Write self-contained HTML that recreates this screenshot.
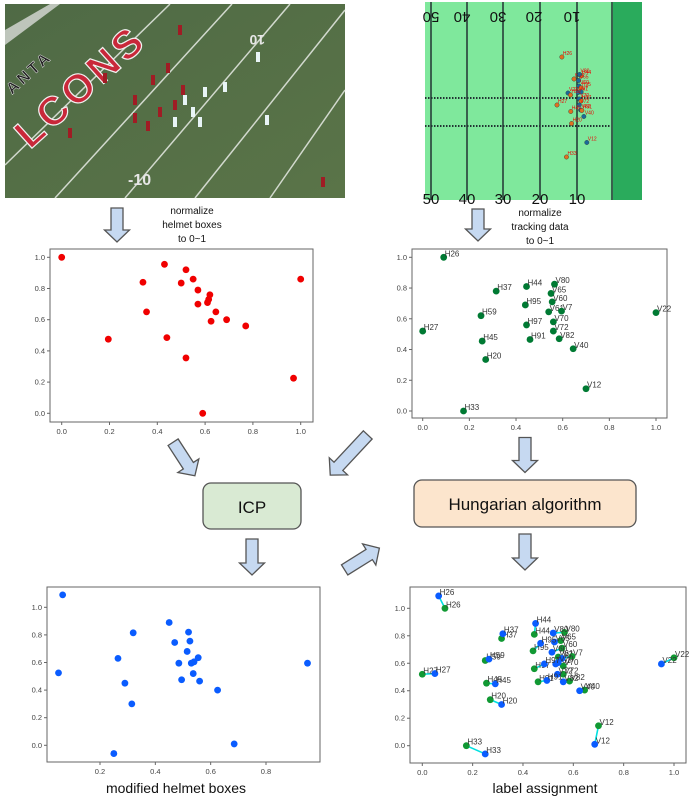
<!DOCTYPE html>
<html><head><meta charset="utf-8">
<style>
html,body{margin:0;padding:0;background:#fff;}
svg{display:block;font-family:"Liberation Sans",sans-serif;}
</style></head>
<body>
<svg id="root" width="693" height="800" viewBox="0 0 693 800" xmlns="http://www.w3.org/2000/svg">
  <defs>
    <linearGradient id="turf" x1="0" y1="0" x2="1" y2="1">
      <stop offset="0" stop-color="#4f6a45"/>
      <stop offset="1" stop-color="#5a7448"/>
    </linearGradient>
  </defs>
  <g>
    <rect x="5" y="4" width="340" height="194" fill="url(#turf)"/>
    <g stroke="#e8ece6" stroke-width="1.5" opacity="0.85">
      <line x1="5" y1="165" x2="170" y2="4"/>
      <line x1="55" y1="198" x2="232" y2="4"/>
      <line x1="125" y1="198" x2="290" y2="4"/>
      <line x1="195" y1="198" x2="345" y2="10"/>
      <line x1="270" y1="198" x2="345" y2="90"/>
    </g>
    <polygon points="5,30 50,4 60,4 5,45" fill="#d9dcd8" opacity="0.8"/>
    <text x="0" y="0" transform="translate(30,150) rotate(-42)" font-size="40" font-weight="bold" fill="#c9283a" stroke="#f2f2f2" stroke-width="1.2" letter-spacing="4">LCONS</text>
    <text x="0" y="0" transform="translate(12,95) rotate(-42)" font-size="16" font-weight="bold" fill="#222" stroke="#ddd" stroke-width="0.5" letter-spacing="3">ANTA</text>
    <text x="235" y="45" font-size="14" font-weight="bold" fill="#e6e6e6" transform="rotate(180,250,40)">10</text>
    <text x="128" y="185" font-size="16" font-weight="bold" fill="#e6e6e6">-10</text>
    <g id="players"></g>
  </g>
  <g>
    <rect x="425" y="2" width="188" height="198" fill="#7fe89c"/>
    <rect x="613" y="2" width="29" height="198" fill="#2aab5c"/>
    <g stroke="#233" stroke-width="1.5">
      <line x1="431" y1="2" x2="431" y2="200"/><line x1="467" y1="2" x2="467" y2="200"/>
      <line x1="503" y1="2" x2="503" y2="200"/><line x1="540" y1="2" x2="540" y2="200"/>
      <line x1="577" y1="2" x2="577" y2="200"/><line x1="612" y1="2" x2="612" y2="200"/>
    </g>
    <g stroke="#233" stroke-width="2" stroke-dasharray="1.5,1.5">
      <line x1="425" y1="98" x2="610" y2="98"/><line x1="425" y1="126" x2="610" y2="126"/>
    </g>
    <g font-size="15" fill="#111">
      <text transform="rotate(180,431,18)" x="431" y="24" text-anchor="middle">50</text>
      <text transform="rotate(180,462,18)" x="462" y="24" text-anchor="middle">40</text>
      <text transform="rotate(180,498,18)" x="498" y="24" text-anchor="middle">30</text>
      <text transform="rotate(180,534,18)" x="534" y="24" text-anchor="middle">20</text>
      <text transform="rotate(180,572,18)" x="572" y="24" text-anchor="middle">10</text>
      <text x="431" y="204" text-anchor="middle">50</text>
      <text x="467" y="204" text-anchor="middle">40</text>
      <text x="503" y="204" text-anchor="middle">30</text>
      <text x="540" y="204" text-anchor="middle">20</text>
      <text x="577" y="204" text-anchor="middle">10</text>
    </g>
    <g id="fieldDots"></g>
  </g>
  <g font-size="10" fill="#111" text-anchor="middle">
    <text x="192" y="214"><tspan x="192">normalize</tspan><tspan x="192" dy="14">helmet boxes</tspan><tspan x="192" dy="14">to 0~1</tspan></text>
    <text x="540" y="216"><tspan x="540">normalize</tspan><tspan x="540" dy="14">tracking data</tspan><tspan x="540" dy="14">to 0~1</tspan></text>
  </g>
  <g id="arrows"></g>
  <g>
    <rect x="203" y="483" width="98" height="46" rx="8" fill="#d9ead3" stroke="#555" stroke-width="1.3"/>
    <text x="252" y="513" font-size="17" text-anchor="middle" fill="#111">ICP</text>
  </g>
  <g>
    <rect x="414" y="480" width="222" height="47" rx="8" fill="#fce5cd" stroke="#555" stroke-width="1.3"/>
    <text x="525" y="510" font-size="17" text-anchor="middle" fill="#111">Hungarian algorithm</text>
  </g>
  <g id="plots"></g>
  <text x="176" y="793" font-size="14" text-anchor="middle" fill="#111">modified helmet boxes</text>
  <text x="545" y="793" font-size="14" text-anchor="middle" fill="#111">label assignment</text>
</svg>
<script>
const NS="http://www.w3.org/2000/svg";
const helmetX=[0,0.43,0.52,0.34,0.50,0.55,1.0,0.57,0.62,0.615,0.61,0.57,0.355,0.645,0.69,0.625,0.77,0.195,0.44,0.52,0.97,0.59];
const helmetY=[1,0.955,0.92,0.84,0.835,0.86,0.86,0.79,0.76,0.73,0.71,0.70,0.65,0.65,0.60,0.59,0.56,0.475,0.485,0.355,0.225,0.0];
const trackLabels=["H26","H37","H44","V80","V65","V60","H95","V61","V7","V22","H59","V70","H97","H27","V72","V82","H91","H45","V40","H20","V12","H33"];
const trackX=[0.09,0.315,0.445,0.565,0.55,0.555,0.44,0.54,0.595,1.0,0.25,0.56,0.445,0.0,0.56,0.585,0.46,0.255,0.645,0.27,0.70,0.175];
const trackY=[1.0,0.78,0.81,0.825,0.765,0.71,0.69,0.645,0.65,0.64,0.62,0.58,0.56,0.52,0.52,0.47,0.465,0.455,0.405,0.335,0.145,0.0];
const modX=[0.065,0.32,0.45,0.52,0.525,0.515,0.47,0.53,0.555,0.95,0.265,0.54,0.485,0.05,0.537,0.56,0.495,0.29,0.625,0.315,0.685,0.25];
const modY=[1.09,0.815,0.89,0.82,0.755,0.68,0.745,0.595,0.635,0.595,0.63,0.605,0.595,0.525,0.52,0.465,0.475,0.45,0.40,0.30,0.01,-0.06];
const ticks01=[0,0.2,0.4,0.6,0.8,1.0];
const ticksMod=[0.2,0.4,0.6,0.8];
const ticksY2=[0,0.2,0.4,0.6,0.8,1.0];

function el(tag,attrs,parent){const e=document.createElementNS(NS,tag);for(const k in attrs)e.setAttribute(k,attrs[k]);parent.appendChild(e);return e;}
const plots=document.getElementById('plots');

function makeAxes(name,box,xs,ys,xt,yt){
  const g=el('g',{},plots);
  
  
  el('rect',{x:box.x0,y:box.y0,width:box.x1-box.x0,height:box.y1-box.y0,fill:'none',stroke:'#666','stroke-width':1},g);
  xt.forEach(t=>{const x=xs(t);el('line',{x1:x,x2:x,y1:box.y1,y2:box.y1+3,stroke:'#666'},g);
    const tx=el('text',{x:x,y:box.y1+12,'font-size':7.5,'text-anchor':'middle',fill:'#444'},g);tx.textContent=t.toFixed(1);
    
    });
  yt.forEach(t=>{const y=ys(t);el('line',{x1:box.x0-3,x2:box.x0,y1:y,y2:y,stroke:'#666'},g);
    const tx=el('text',{x:box.x0-5,y:y+2.5,'font-size':7.5,'text-anchor':'end',fill:'#444'},g);tx.textContent=t.toFixed(1);
    
    });
  return g;
}
function lin(d0,d1,r0,r1){return v=>r0+(v-d0)*(r1-r0)/(d1-d0);}
function dot(g,x,y,c,name){const d=el('circle',{cx:x,cy:y,r:3.4,fill:c},g);
  
  return d;}
function lab(g,x,y,s){const t=el('text',{x:x+1,y:y-1,'font-size':8,fill:'#333'},g);t.textContent=s;
  
  }

{const box={x0:50,x1:313,y0:249,y1:422};const xs=lin(0,1,61.7,300.7),ys=lin(0,1,413.3,257.3);
 const g=makeAxes('helmet-scatter',box,xs,ys,ticks01,ticksY2);
 helmetX.forEach((v,i)=>dot(g,xs(v),ys(helmetY[i]),'#f00000','helmet-point'));}
{const box={x0:412,x1:667,y0:249,y1:418};const xs=lin(0,1,422.7,656),ys=lin(0,1,411,257.3);
 const g=makeAxes('tracking-scatter',box,xs,ys,ticks01,ticksY2);
 trackX.forEach((v,i)=>{dot(g,xs(v),ys(trackY[i]),'#007a33','tracking-point');lab(g,xs(v),ys(trackY[i]),trackLabels[i]);});}
{const box={x0:47,x1:320,y0:587,y1:762};const xs=lin(0.2,0.8,100,266),ys=lin(0,1,745.3,607.3);
 const g=makeAxes('modified-helmet-scatter',box,xs,ys,ticksMod,ticksY2);
 modX.forEach((v,i)=>dot(g,xs(v),ys(modY[i]),'#0a5cff','modified-helmet-point'));}
{const box={x0:410,x1:686,y0:587,y1:763};const xs=lin(0,1,422.3,674),ys=lin(0,1,745.7,608.3);
 const g=makeAxes('assignment-scatter',box,xs,ys,ticks01,ticksY2);
 trackX.forEach((v,i)=>{const l=el('line',{x1:xs(v),y1:ys(trackY[i]),x2:xs(modX[i]),y2:ys(modY[i]),stroke:'#00e0e0','stroke-width':1.6},g);
   
   });
 trackX.forEach((v,i)=>{dot(g,xs(v),ys(trackY[i]),'#119933','assigned-track-point');lab(g,xs(v),ys(trackY[i]),trackLabels[i]);});
 modX.forEach((v,i)=>{dot(g,xs(v),ys(modY[i]),'#0a5cff','assigned-helmet-point');lab(g,xs(v),ys(modY[i]),trackLabels[i]);});}

{const fg=document.getElementById('fieldDots');const fx=lin(0,1,553,607),fy=lin(0,1,157,57);
 trackX.forEach((v,i)=>{const isH=trackLabels[i][0]==='H';
   const px=isH?fx(v)+4:fx(v)-(v>0.9?35:0)-4;
   const c=el('circle',{cx:px,cy:fy(trackY[i]),r:2.2,fill:isH?'#e07020':'#1a6a9a',stroke:'#333','stroke-width':0.4},fg);
   
   
   const t=el('text',{x:px+1,y:fy(trackY[i])-2,'font-size':5,fill:'#e00'},fg);t.textContent=trackLabels[i];
   
   });}

{const pg=document.getElementById('players');
 const pxs=[[180,30],[105,78],[153,80],[168,68],[135,100],[183,90],[175,105],[160,112],[148,126],[135,118],[70,133],[185,100],[205,92],[225,87],[193,112],[200,122],[175,122],[258,57],[267,120],[323,182]];
 pxs.forEach((p,i)=>{const c=el('rect',{x:p[0]-2,y:p[1]-5,width:4,height:10,fill:(i>10&&i<19)?'#e8f4f6':'#a01c24'},pg);
   
   });}

{const ag=document.getElementById('arrows');
 const arrows=[[117,225,34,0],[478,225,32,0],[184,459,40,-33],[349,455,55,43],[525,455,35,0],[252,557,36,0],[362,559,41,-122],[525,552,36,0]];
 arrows.forEach(a=>{const L=a[2]/2;const pts=[[-6,-L],[6,-L],[6,L-12],[12.5,L-12],[0,L],[-12.5,L-12],[-6,L-12]].map(p=>p.join(',')).join(' ');
   const p=el('polygon',{points:pts,fill:'#c6d9f1',stroke:'#555','stroke-width':1.3,transform:`translate(${a[0]},${a[1]}) rotate(${a[3]})`},ag);
   
   });}
</script>
</body></html>
